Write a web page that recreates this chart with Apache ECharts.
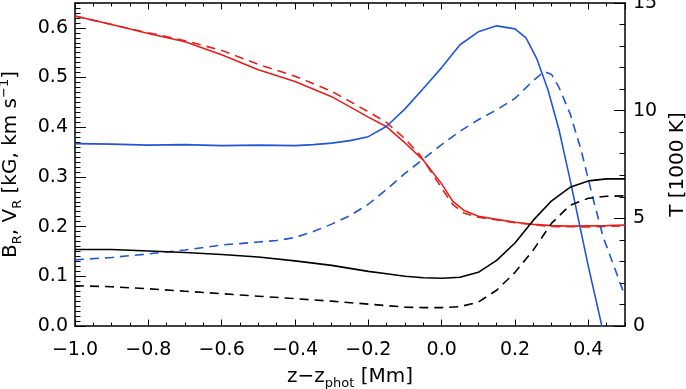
<!DOCTYPE html>
<html>
<head>
<meta charset="utf-8">
<script src="https://cdn.jsdelivr.net/npm/echarts@6/dist/echarts.min.js"></script>
<style>html,body{margin:0;padding:0;background:#fff}#c{width:686px;height:389px}</style>
</head>
<body>
<div id="c"></div>
<script>
// ---- data ----
const xTicks = [-1.0, -0.8, -0.6, -0.4, -0.2, 0.0, 0.2, 0.4];
const leftTicks = [0.0, 0.1, 0.2, 0.3, 0.4, 0.5, 0.6];
const rightTicks = [0, 5, 10, 15];

// Temperature (right axis, 1000 K) - red solid
const tSolidX = [-1.0,-0.9,-0.8,-0.7,-0.6,-0.5,-0.4,-0.3,-0.2,-0.15,-0.1,-0.05,0.0,0.03,0.06,0.1,0.15,0.2,0.25,0.3,0.35,0.4,0.45,0.5];
const tSolidY = [14.4,14.0,13.58,13.2,12.6,11.9,11.35,10.65,9.7,9.25,8.5,7.7,6.6,5.8,5.38,5.1,4.95,4.82,4.72,4.66,4.64,4.65,4.66,4.69];
// red dashed
const tDashX = [-1.0,-0.85,-0.7,-0.6,-0.5,-0.4,-0.3,-0.2,-0.15,-0.1,-0.06,-0.03,0.0,0.03,0.06,0.1,0.2,0.3,0.4,0.5];
const tDashY = [14.4,13.8,13.25,12.8,12.15,11.6,10.9,9.95,9.45,8.7,7.95,7.2,6.4,5.65,5.25,5.05,4.8,4.62,4.6,4.65];

// blue solid (left axis)
const bSolidX = [-1.0,-0.9,-0.8,-0.7,-0.6,-0.5,-0.4,-0.35,-0.3,-0.25,-0.2,-0.15,-0.1,-0.05,0.0,0.05,0.1,0.15,0.2,0.23,0.26,0.29,0.32,0.35,0.4,0.44];
const bSolidY = [0.367,0.366,0.364,0.365,0.363,0.364,0.363,0.365,0.368,0.373,0.381,0.402,0.437,0.478,0.52,0.566,0.592,0.604,0.598,0.58,0.537,0.475,0.395,0.295,0.12,-0.01];
// blue dashed
const bDashX = [-1.0,-0.9,-0.8,-0.7,-0.6,-0.5,-0.45,-0.4,-0.35,-0.3,-0.25,-0.2,-0.15,-0.1,-0.05,0.0,0.05,0.1,0.15,0.2,0.25,0.28,0.3,0.32,0.35,0.38,0.41,0.44,0.47,0.5];
const bDashY = [0.133,0.138,0.145,0.153,0.163,0.169,0.172,0.178,0.19,0.205,0.222,0.245,0.275,0.307,0.336,0.365,0.392,0.415,0.435,0.458,0.494,0.512,0.506,0.48,0.428,0.355,0.265,0.18,0.12,0.06];

// black solid
const kSolidX = [-1.0,-0.9,-0.8,-0.7,-0.6,-0.5,-0.4,-0.3,-0.2,-0.15,-0.1,-0.05,0.0,0.05,0.1,0.15,0.2,0.25,0.3,0.35,0.4,0.45,0.5];
const kSolidY = [0.154,0.154,0.151,0.148,0.144,0.139,0.131,0.122,0.11,0.105,0.1,0.097,0.096,0.098,0.108,0.132,0.167,0.213,0.252,0.279,0.292,0.296,0.296];
// black dashed
const kDashX = [-1.0,-0.9,-0.8,-0.7,-0.6,-0.5,-0.4,-0.3,-0.2,-0.1,-0.05,0.0,0.05,0.1,0.15,0.2,0.25,0.3,0.35,0.4,0.45,0.5];
const kDashY = [0.081,0.079,0.075,0.07,0.065,0.06,0.055,0.05,0.044,0.038,0.037,0.037,0.039,0.048,0.072,0.108,0.153,0.207,0.243,0.257,0.261,0.262];

// ---- chart ----
const zip = (xs, ys) => xs.map((x, i) => [x, ys[i]]);
const FONT = 'DejaVu Sans';
const FS = 19;   // tick labels
const NFS = 20;  // axis names
const RED = '#e6201c', BLUE = '#2056d6', BLACK = '#000';
const fmtX = v => {
  const r = Math.round(v * 10) / 10;
  return (r < 0 ? '\u2212' : '') + Math.abs(r).toFixed(1);
};
const baseText = {fontFamily: FONT, fontSize: FS, color: '#000'};
const rich = {
  t: {fontFamily: FONT, fontSize: NFS, color: '#000', lineHeight: 26},
  s: {fontFamily: FONT, fontSize: 13, color: '#000', lineHeight: 13, verticalAlign: 'bottom'},
  p: {fontFamily: FONT, fontSize: 13, color: '#000', lineHeight: 13, verticalAlign: 'top'}
};
const tickStyle = {color: '#000', width: 1};
const lineStyleAxis = {color: '#000', width: 1.5};

const xMin = xTicks[0], xMax = 0.5;
const xStep = xTicks[1] - xTicks[0];
const yStep = leftTicks[1] - leftTicks[0];
const rStep = rightTicks[1] - rightTicks[0];

const option = {
  animation: false,
  backgroundColor: '#fff',
  grid: {left: 75, right: 61, top: 3, bottom: 63, containLabel: false, outerBoundsMode: 'none'},
  xAxis: [
    {type: 'value', position: 'bottom', min: xMin, max: xMax, interval: xStep,
     axisLine: {show: true, onZero: false, lineStyle: lineStyleAxis},
     axisTick: {show: true, inside: true, length: 6.5, lineStyle: tickStyle},
     axisLabel: {show: true, margin: 15, formatter: fmtX, showMaxLabel: false, ...baseText},
     splitLine: {show: false},
     name: '{t|z\u2212z}{s|phot}{t| [Mm]}', nameLocation: 'middle', nameGap: 38,
     nameTextStyle: {rich: rich}},
    {type: 'value', position: 'bottom', min: xMin, max: xMax, interval: xStep / 4,
     axisLine: {show: false, onZero: false},
     axisTick: {show: true, inside: true, length: 3.5, lineStyle: tickStyle},
     axisLabel: {show: false}, splitLine: {show: false}},
    {type: 'value', position: 'top', min: xMin, max: xMax, interval: xStep,
     axisLine: {show: true, onZero: false, lineStyle: lineStyleAxis},
     axisTick: {show: true, inside: true, length: 6.5, lineStyle: tickStyle},
     axisLabel: {show: false}, splitLine: {show: false}},
    {type: 'value', position: 'top', min: xMin, max: xMax, interval: xStep / 4,
     axisLine: {show: false, onZero: false},
     axisTick: {show: true, inside: true, length: 3.5, lineStyle: tickStyle},
     axisLabel: {show: false}, splitLine: {show: false}}
  ],
  yAxis: [
    {type: 'value', position: 'left', min: leftTicks[0], max: 0.65, interval: yStep,
     axisLine: {show: true, onZero: false, lineStyle: lineStyleAxis},
     axisTick: {show: true, inside: true, length: 11, lineStyle: tickStyle},
     axisLabel: {show: true, margin: 7, showMaxLabel: false, formatter: v => (Math.round(v * 10) / 10).toFixed(1), ...baseText},
     splitLine: {show: false},
     name: '{t|B}{s|R}{t|, V}{s|R}{t| [kG, km s}{p|\u22121}{t|]}', nameLocation: 'middle', nameGap: 51, nameRotate: 90,
     nameTextStyle: {rich: rich}},
    {type: 'value', position: 'left', min: leftTicks[0], max: 0.65, interval: yStep / 10,
     axisLine: {show: false, onZero: false},
     axisTick: {show: true, inside: true, length: 5.5, lineStyle: tickStyle},
     axisLabel: {show: false}, splitLine: {show: false}},
    {type: 'value', position: 'right', min: rightTicks[0], max: rightTicks[rightTicks.length - 1], interval: rStep,
     axisLine: {show: true, onZero: false, lineStyle: lineStyleAxis},
     axisTick: {show: true, inside: true, length: 11, lineStyle: tickStyle},
     minorTick: {show: true, splitNumber: 5, length: 5.5, lineStyle: tickStyle},
     axisLabel: {show: true, margin: 8, ...baseText},
     splitLine: {show: false},
     name: 'T [1000 K]', nameLocation: 'middle', nameGap: 32, nameRotate: 90,
     nameTextStyle: {fontFamily: FONT, fontSize: NFS, color: '#000'}}
  ],
  series: [
    {type: 'line', name: 'Tsolid', xAxisIndex: 0, yAxisIndex: 2, data: zip(tSolidX, tSolidY), showSymbol: false, symbol: 'none',
     lineStyle: {color: RED, width: 1.6}},
    {type: 'line', name: 'Tdash', xAxisIndex: 0, yAxisIndex: 2, data: zip(tDashX, tDashY), showSymbol: false, symbol: 'none',
     lineStyle: {color: RED, width: 1.6, type: [9, 6]}},
    {type: 'line', name: 'Bsolid', xAxisIndex: 0, yAxisIndex: 0, data: zip(bSolidX, bSolidY), showSymbol: false, symbol: 'none', clip: true,
     lineStyle: {color: BLUE, width: 1.6}},
    {type: 'line', name: 'Bdash', xAxisIndex: 0, yAxisIndex: 0, data: zip(bDashX, bDashY), showSymbol: false, symbol: 'none',
     lineStyle: {color: BLUE, width: 1.6, type: [9, 6]}},
    {type: 'line', name: 'Ksolid', xAxisIndex: 0, yAxisIndex: 0, data: zip(kSolidX, kSolidY), showSymbol: false, symbol: 'none',
     lineStyle: {color: BLACK, width: 1.6}},
    {type: 'line', name: 'Kdash', xAxisIndex: 0, yAxisIndex: 0, data: zip(kDashX, kDashY), showSymbol: false, symbol: 'none',
     lineStyle: {color: BLACK, width: 1.6, type: [9, 6]}}
  ]
};
const chart = echarts.init(document.getElementById('c'), null, {renderer: 'canvas'});
chart.setOption(option);
</script>
</body>
</html>
